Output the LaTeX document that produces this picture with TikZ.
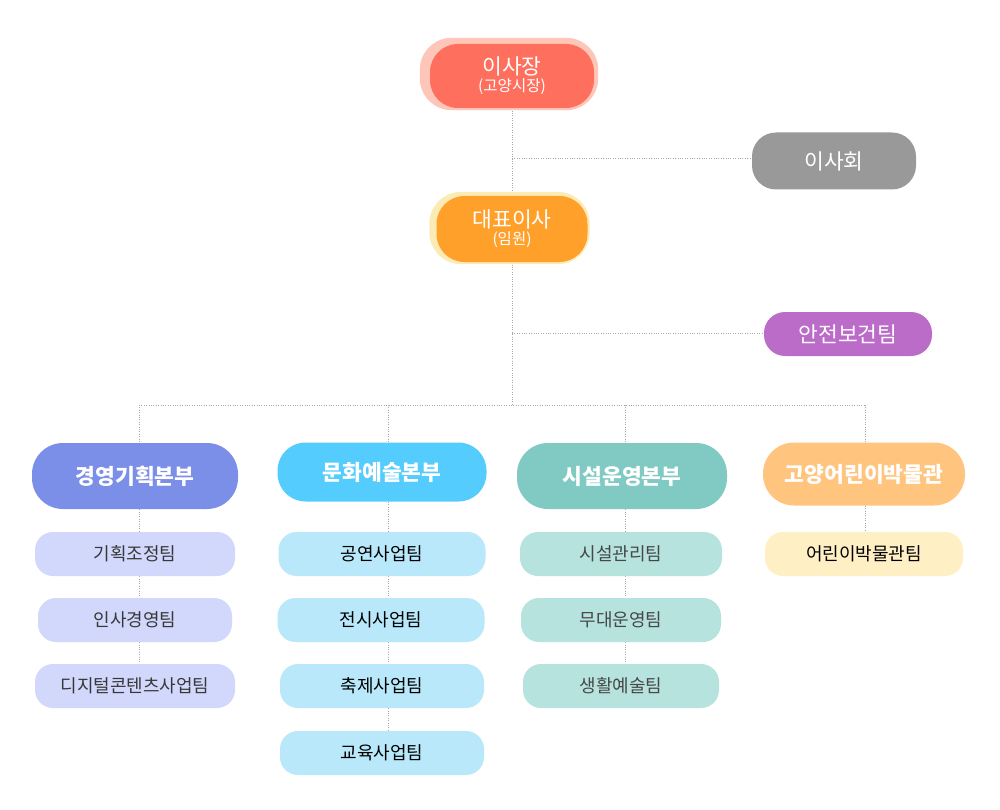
\documentclass[tikz,border=0pt]{standalone}
\usepackage{fontspec}
\setmainfont{Noto Sans CJK KR}
\usetikzlibrary{backgrounds}
\definecolor{cRed}{HTML}{FF6F5E}
\definecolor{cRedHalo}{HTML}{FDC6B8}
\definecolor{cOrange}{HTML}{FFA02B}
\definecolor{cOrangeHalo}{HTML}{FDEBB6}
\definecolor{cGrey}{HTML}{999999}
\definecolor{cPurple}{HTML}{BB6BC8}
\definecolor{cD1}{HTML}{7B8FE8}
\definecolor{cD2}{HTML}{55CCFE}
\definecolor{cD3}{HTML}{80CAC3}
\definecolor{cD4}{HTML}{FFC47E}
\definecolor{cT1}{HTML}{D1D8FB}
\definecolor{cT2}{HTML}{B9E8FB}
\definecolor{cT3}{HTML}{B6E3DE}
\definecolor{cT4}{HTML}{FFEFC5}
\definecolor{cLine}{HTML}{A8A8A8}
\tikzset{
  conn/.style={draw=cLine, line width=0.9pt, dash pattern=on 1pt off 1.4pt},
  topbox/.style={inner sep=0pt, text=white, align=center, rounded corners=28pt, font=\fontsize{21.5}{17}\selectfont},
  divbox/.style={minimum height=64pt, minimum width=206pt, inner sep=0pt, rounded corners=31pt, text=white, font=\fontsize{21.5}{24}\selectfont\bfseries},
  teambox/.style={minimum height=44pt, minimum width=200pt, inner sep=0pt, rounded corners=18pt, font=\fontsize{18}{21}\selectfont},
}
\begin{document}
\begin{tikzpicture}[x=1pt,y=-1pt]
\useasboundingbox (0,0) rectangle (1000,810);

% top nodes
\node[topbox, fill=cRed, minimum width=164pt, minimum height=64pt] (chair) at (512,76)
  {이사장\\{\fontsize{15.5}{16}\selectfont (고양시장)}};
\node[topbox, fill=cOrange, minimum width=151pt, minimum height=66pt] (ceo) at (512,229)
  {대표이사\\{\fontsize{15.5}{16}\selectfont (임원)}};
\node[topbox, fill=cGrey, minimum width=164pt, minimum height=57pt, rounded corners=24pt] (board) at (834,161) {이사회};
\node[topbox, fill=cPurple, minimum width=168pt, minimum height=44pt, rounded corners=21pt] (safety) at (848,334) {안전보건팀};

% divisions
\node[divbox, fill=cD1, minimum height=66pt] (d1) at (135,476) {경영기획본부};
\node[divbox, fill=cD2, minimum width=209pt, minimum height=59pt, rounded corners=28pt] (d2) at (382,472) {문화예술본부};
\node[divbox, fill=cD3, minimum width=210pt, minimum height=66pt] (d3) at (622,476) {시설운영본부};
\node[divbox, fill=cD4, minimum width=202pt, minimum height=63pt] (d4) at (864,474) {고양어린이박물관};

% teams
\node[teambox, fill=cT1, text=black!78] (t11) at (135,554) {기획조정팀};
\node[teambox, fill=cT1, text=black!78, minimum width=194pt] (t12) at (135,620) {인사경영팀};
\node[teambox, fill=cT1, text=black!78] (t13) at (135,686) {디지털콘텐츠사업팀};

\node[teambox, fill=cT2, text=black, minimum width=207pt] (t21) at (382,554) {공연사업팀};
\node[teambox, fill=cT2, text=black, minimum width=207pt] (t22) at (381,620) {전시사업팀};
\node[teambox, fill=cT2, text=black, minimum width=204pt] (t23) at (382,686) {축제사업팀};
\node[teambox, fill=cT2, text=black, minimum width=204pt] (t24) at (382,753) {교육사업팀};

\node[teambox, fill=cT3, text=black!72, minimum width=202pt] (t31) at (621,554) {시설관리팀};
\node[teambox, fill=cT3, text=black!72, minimum width=200pt] (t32) at (621,620) {무대운영팀};
\node[teambox, fill=cT3, text=black!72, minimum width=196pt] (t33) at (621,686) {생활예술팀};

\node[teambox, fill=cT4, text=black, minimum width=198pt] (t41) at (864,554) {어린이박물관팀};

% junctions
\coordinate (j1) at (512,158);
\coordinate (j2) at (512,333);
\coordinate (bus) at (512,405);
\coordinate (b1) at (139,405);
\coordinate (b2) at (388,405);
\coordinate (b3) at (625,405);
\coordinate (b4) at (865,405);

\begin{scope}[on background layer]
  \fill[white] (0,0) rectangle (1000,810);
  \draw[conn] (chair) -- (ceo);
  \draw[conn] (j1) -- (j1 -| board.west);
  \draw[conn] (ceo) -- (bus);
  \draw[conn] (j2) -- (j2 -| safety.west);
  \draw[conn] (b1) -- (b4);
  \foreach \c/\d in {b1/d1, b2/d2, b3/d3, b4/d4}
    \draw[conn] (\c) -- (\c |- \d.north);
  \draw[conn] (d1.south -| b1) -- (t11.north -| b1);
  \draw[conn] (t11.south -| b1) -- (t12.north -| b1);
  \draw[conn] (t12.south -| b1) -- (t13.north -| b1);
  \draw[conn] (d2.south -| b2) -- (t21.north -| b2);
  \draw[conn] (t21.south -| b2) -- (t22.north -| b2);
  \draw[conn] (t22.south -| b2) -- (t23.north -| b2);
  \draw[conn] (t23.south -| b2) -- (t24.north -| b2);
  \draw[conn] (d3.south -| b3) -- (t31.north -| b3);
  \draw[conn] (t31.south -| b3) -- (t32.north -| b3);
  \draw[conn] (t32.south -| b3) -- (t33.north -| b3);
  \draw[conn] (d4.south -| b4) -- (t41.north -| b4);
  % halos
  \fill[cRedHalo, rounded corners=32pt] ([xshift=-10pt,yshift=6pt]chair.north west) rectangle ([xshift=4pt,yshift=-2pt]chair.south east);
  \fill[cOrangeHalo, rounded corners=32pt] ([xshift=-7pt,yshift=4pt]ceo.north west) rectangle ([xshift=2pt,yshift=-2pt]ceo.south east);
\end{scope}
\end{tikzpicture}
\end{document}
